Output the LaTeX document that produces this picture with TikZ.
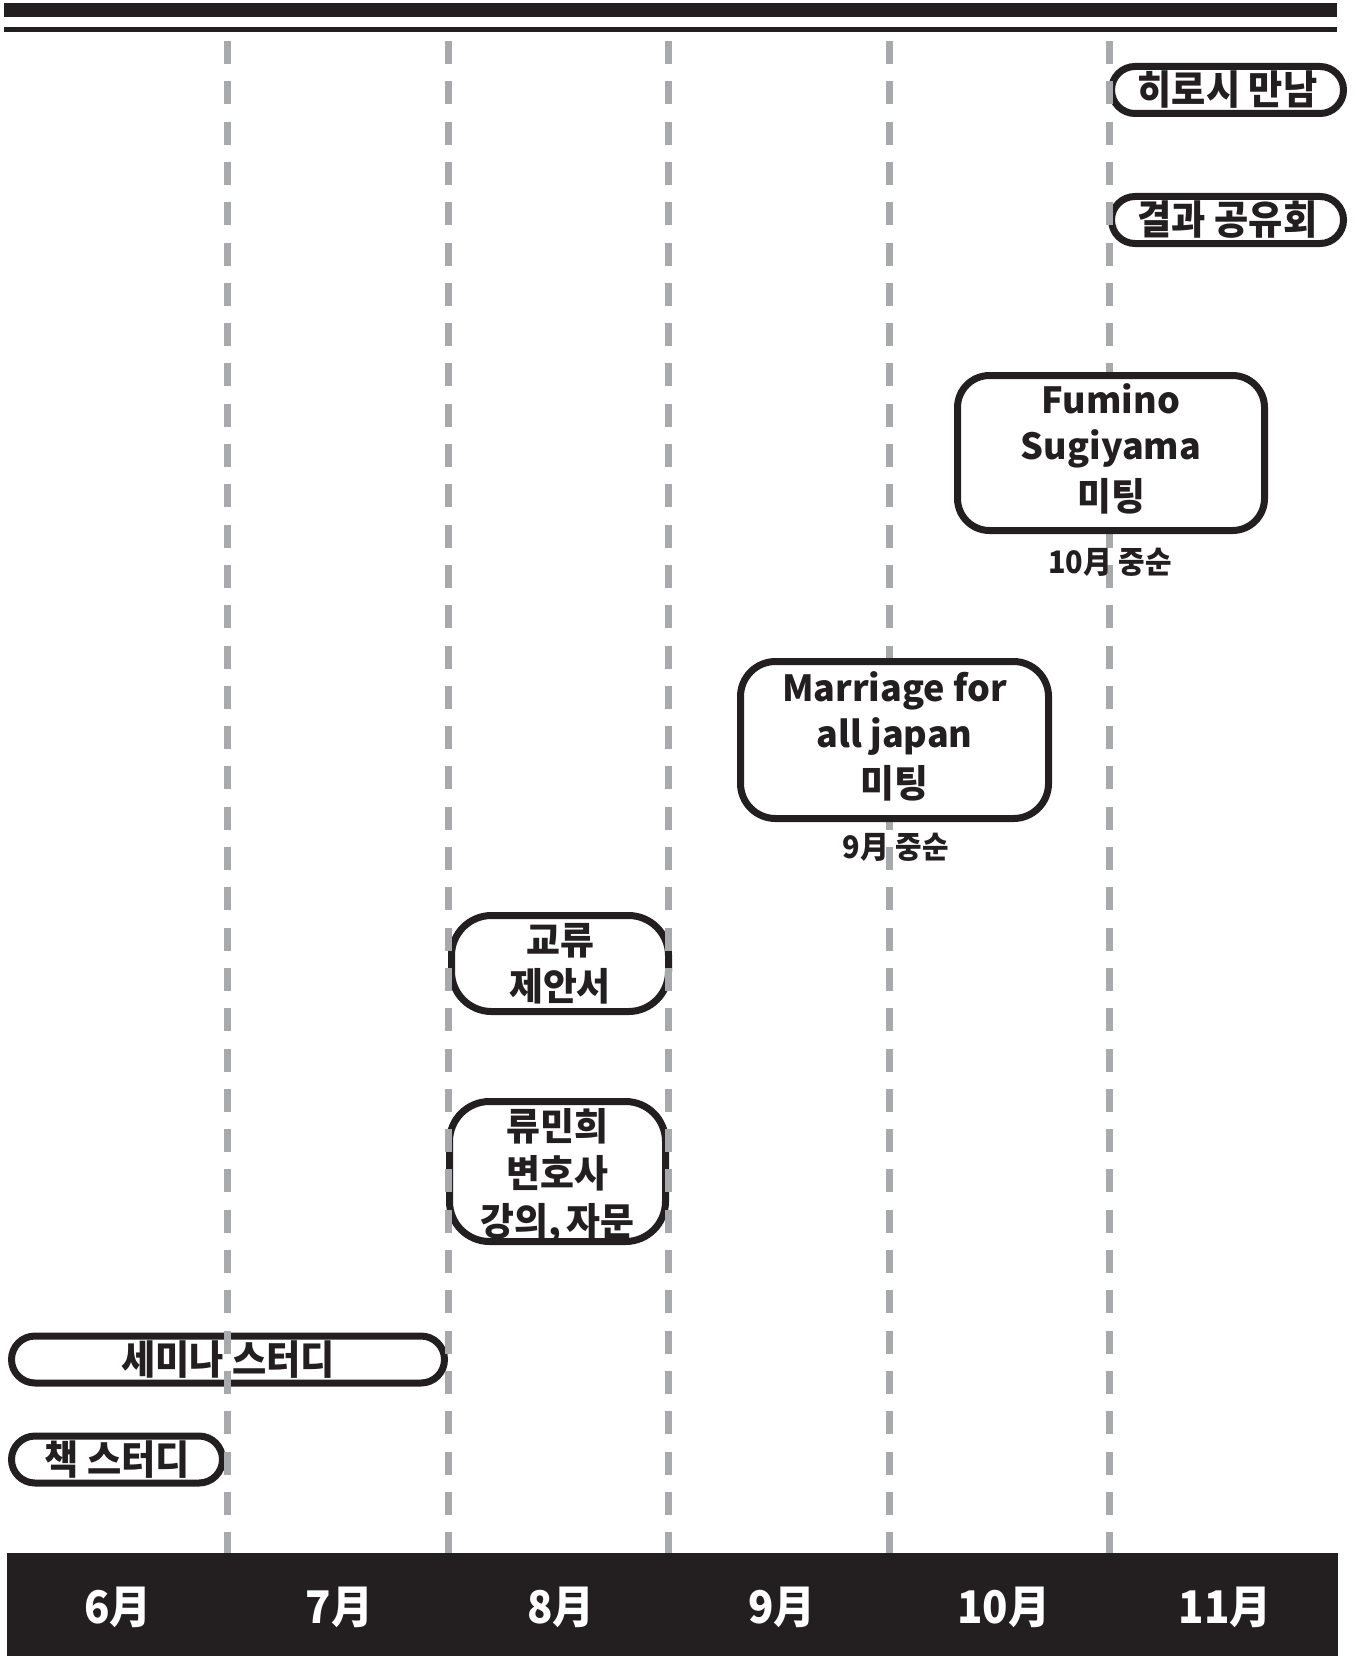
\documentclass[tikz,border=0pt]{standalone}
\usepackage{fontspec}
\newfontfamily\krfont{Noto Sans CJK KR Black}[FakeStretch=0.93]
\newfontfamily\krwide{Noto Sans CJK KR Black}[FakeStretch=0.97]
\newfontfamily\enfont{Noto Sans CJK KR Black}
\definecolor{ink}{HTML}{231F20}
\definecolor{guidegray}{HTML}{A7A9AC}

\begin{document}
\begin{tikzpicture}[x=1pt, y=-1pt,
  pill/.style={draw=ink, line width=7pt, fill=white, rounded corners=23.5pt, inner sep=0pt,
    minimum height=47pt, text=ink, font={\krfont\fontsize{40}{44}\selectfont}},
  card/.style={draw=ink, line width=7pt, fill=white, inner sep=0pt, align=center,
    text=ink, font={\enfont\fontsize{36}{46}\selectfont}},
  when/.style={text=ink, font={\krfont\fontsize{31}{34}\selectfont}},
  month/.style={text=white, anchor=base, font={\krfont\fontsize{45}{48}\selectfont}},
  guide/.style={guidegray, line width=7pt, dash pattern=on 23pt off 17.3pt}]
\useasboundingbox (0,0) rectangle (1356,1656);

\fill[ink] (4,3) rectangle (1337,17);
\fill[ink] (4,27) rectangle (1337,32);
\fill[ink] (7,1553) rectangle (1338,1656);

\node[pill, minimum width=232pt] (hiroshi) at (1227.5,90) {히로시 만남};
\node[pill, minimum width=232pt] (sharing) at (1227.5,220) {결과 공유회};
\node[card, minimum width=217pt, minimum height=96pt, rounded corners=40pt,
  font={\krwide\fontsize{38}{46}\selectfont}] (proposal) at (560,963.5) {교류\\제안서};
\node[card, minimum width=216pt, minimum height=140pt, rounded corners=40pt,
  font={\krwide\fontsize{38}{47.5}\selectfont}] (lecture) at (557.5,1171.5)
  {\rule{0pt}{32pt}류민희\\변호사\\\smash{강의,\hspace{-3pt} 자문}};
\node[pill, minimum width=433pt] (seminar) at (228,1359.5) {세미나 스터디};
\node[pill, minimum width=211pt] (book) at (117,1459.5) {책 스터디};

\draw[guide] (227.5,41) -- (227.5,1553);
\draw[guide] (448,41) -- (448,1553);
\draw[guide] (668.5,41) -- (668.5,1553);
\draw[guide] (889,41) -- (889,1553);
\draw[guide] (1109.5,41) -- (1109.5,1553);

\node[card, minimum width=307pt, minimum height=155pt, rounded corners=32pt] (fumino) at (1111,453)
  {Fumino\\Sugiyama\\[4.5pt]{\krwide\fontsize{38}{46}\selectfont 미팅\rule[-12pt]{0pt}{12pt}}};
\node[when] (fuminodate) at (1110,562) {10月 중순};
\node[card, minimum width=308pt, minimum height=157pt, rounded corners=35pt] (marriage) at (894.5,740)
  {Marriage for\\all japan\\[4pt]{\krwide\fontsize{38}{46}\selectfont 미팅\rule[-11pt]{0pt}{11pt}}};
\node[when] (marriagedate) at (896,847) {9月 중순};

\node[month] (jun) at (118,1623) {6月};
\node[month] (jul) at (339.4,1623) {7月};
\node[month] (aug) at (560.8,1623) {8月};
\node[month] (sep) at (782,1623) {9月};
\node[month] (oct) at (1003.6,1623) {10月};
\node[month] (nov) at (1225,1623) {11月};
\end{tikzpicture}
\end{document}
